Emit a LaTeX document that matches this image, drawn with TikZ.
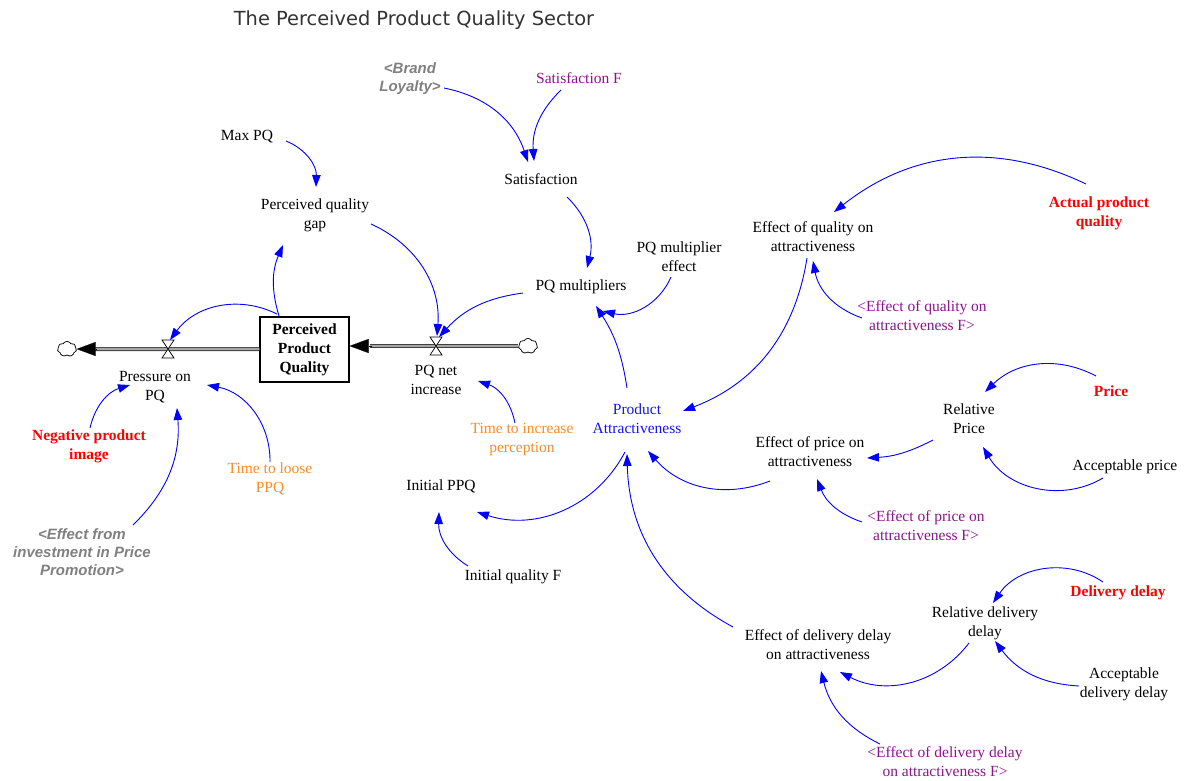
\documentclass[tikz,border=0pt]{standalone}
\usepackage{fontspec}
\setmainfont{Liberation Serif}
\newfontfamily\titlefont{DejaVu Sans}
\newfontfamily\shadowfont{Liberation Sans}
\usetikzlibrary{arrows.meta,shapes.symbols}

\definecolor{linkblue}{RGB}{0,0,255}
\definecolor{exogred}{RGB}{255,0,0}
\definecolor{lookpurple}{RGB}{140,20,140}
\definecolor{timeorange}{RGB}{250,140,40}
\definecolor{shadowgray}{RGB}{128,128,128}
\definecolor{attrblue}{RGB}{20,20,240}

\newcommand\varsize{\fontsize{15.5}{19}\selectfont}

\tikzset{
  var/.style={align=center, font=\varsize, inner sep=1pt},
  redvar/.style={var, text=exogred, font=\varsize\bfseries},
  purplevar/.style={var, text=lookpurple},
  orangevar/.style={var, text=timeorange},
  shadowvar/.style={align=center, inner sep=1pt, text=shadowgray,
    font=\shadowfont\fontsize{15}{18}\selectfont\bfseries\itshape},
  link/.style={draw=linkblue, line width=0.9pt,
    -{Triangle[length=12pt,width=8.5pt,fill=linkblue]}},
  stockbox/.style={draw, line width=1.1pt, minimum width=89pt, minimum height=65pt,
    align=center, font=\varsize\bfseries, inner sep=2pt},
  pipe/.style={draw=black!75, line width=0.8pt, double=black!35, double distance=2.4pt},
  flowtip/.style={line width=0.1pt, -{Triangle[length=19pt,width=14pt,fill=black]}},
  valve/.style={draw, fill=white, line width=0.7pt, line join=miter},
  source/.style={cloud, cloud puffs=7, cloud puff arc=120, draw, line width=0.6pt,
    fill=white, minimum width=19pt, minimum height=15pt, inner sep=0pt}
}

\begin{document}
\begin{tikzpicture}[x=1pt,y=-1pt]
\useasboundingbox (0,0) rectangle (1190,780);
\fill[white] (0,0) rectangle (1190,780);

% title
\node[font=\titlefont\fontsize{19.4}{22}\selectfont, text=black!80] (title) at (414,20)
  {The Perceived Product Quality Sector};

% stock and the two flows
\node[stockbox] (stock) at (304.5,349.5) {Perceived\\Product\\Quality};
\node[source] (cloudL) at (67,349) {};
\node[source] (cloudR) at (528,346) {};
\coordinate (vL) at (168,349);
\coordinate (vR) at (436,346);

\draw[pipe] (stock.west |- cloudL) -- ([xshift=18pt]cloudL.east);
\draw[flowtip] ([xshift=20pt]cloudL.east) -- (cloudL.east);
\draw[pipe] (cloudR.west) -- ([xshift=20pt]cloudR.west -| stock.east);
\draw[flowtip] ([xshift=22pt]cloudR.west -| stock.east) -- (cloudR.west -| stock.east);
\node[source] at (cloudL) {};
\node[source] at (cloudR) {};

\draw[valve] ([shift={(-6,-9)}]vL) -- ([shift={(6,-9)}]vL) -- ([shift={(-6,9)}]vL)
  -- ([shift={(6,9)}]vL) -- cycle;
\draw[valve] ([shift={(-6,-9)}]vR) -- ([shift={(6,-9)}]vR) -- ([shift={(-6,9)}]vR)
  -- ([shift={(6,9)}]vR) -- cycle;

\node[var] (pressure) at (155,387) {Pressure on\\PQ};
\node[var] (pqni) at (436,380) {PQ net\\increase};

% auxiliaries
\node[var] (maxpq) at (247,137) {Max PQ};
\node[var] (gap) at (315,215) {Perceived quality\\gap};
\node[shadowvar] (brand) at (410,79) {<Brand\\Loyalty>};
\node[purplevar] (satF) at (579,78) {Satisfaction F};
\node[var] (sat) at (541,179) {Satisfaction};
\node[var] (pqme) at (679,257) {PQ multiplier\\effect};
\node[var] (pqm) at (581,287) {PQ multipliers};
\node[var] (effq) at (813,237) {Effect of quality on\\attractiveness};
\node[redvar] (apq) at (1099,213) {Actual product\\quality};
\node[purplevar] (effqF) at (922,316) {<Effect of quality on\\attractiveness F>};
\node[var, text=attrblue] (pa) at (637,419) {Product\\Attractiveness};
\node[orangevar] (tip) at (522,440) {Time to increase\\perception};
\node[var] (rp) at (969,419) {Relative\\Price};
\node[redvar] (price) at (1111,391) {Price};
\node[var] (effp) at (810,452) {Effect of price on\\attractiveness};
\node[var] (accp) at (1125,467) {Acceptable price};
\node[purplevar] (effpF) at (926,526) {<Effect of price on\\attractiveness F>};
\node[var] (ippq) at (441,486) {Initial PPQ};
\node[var] (iqF) at (513,577) {Initial quality F};
\node[redvar] (npi) at (89,446) {Negative product\\image};
\node[orangevar] (tlp) at (270,479) {Time to loose\\PPQ};
\node[shadowvar] (eip) at (82,552) {<Effect from\\investment in Price\\Promotion>};
\node[var] (rdd) at (985,623) {Relative delivery\\delay};
\node[redvar] (dd) at (1118,593) {Delivery delay};
\node[var] (effd) at (818,645) {Effect of delivery delay\\on attractiveness};
\node[var] (acdd) at (1124,684) {Acceptable\\delivery delay};
\node[purplevar] (effdF) at (945,762) {<Effect of delivery delay\\on attractiveness F>};

% causal links
\draw[link] ([shift={(39,4)}]maxpq.center) to[bend left=35] ([shift={(1,-28)}]gap.center);
\draw[link] ([shift={(-25.5,-33.5)}]stock.center) to[bend left=20] ([shift={(-32,30)}]gap.center);
\draw[link] ([shift={(56,9)}]gap.center) to[bend left=35] ([shift={(1,-10)}]vR);
\draw[link] ([shift={(-27.5,-35.5)}]stock.center) to[bend right=40] ([shift={(2,-9)}]vL);
\draw[link] ([shift={(-58,6)}]pqm.center) to[bend right=20] ([shift={(3,-9)}]vR);
\draw[link] ([shift={(34,9)}]brand.center) to[bend left=30] ([shift={(-13,-17)}]sat.center);
\draw[link] ([shift={(-18,12)}]satF.center) to[bend right=25] ([shift={(-7,-18)}]sat.center);
\draw[link] ([shift={(26,18)}]sat.center) to[bend left=30] ([shift={(6,-19)}]pqm.center);
\draw[link] ([shift={(-8,20)}]pqme.center) to[bend left=40] ([shift={(22,24)}]pqm.center);
\draw[link] ([shift={(-10,-31)}]pa.center) to[bend right=12] ([shift={(15,19)}]pqm.center);
\draw[link] ([shift={(-13,-29)}]apq.center) to[bend right=32] ([shift={(21,-25)}]effq.center);
\draw[link] ([shift={(-6,21)}]effq.center) to[bend left=30] ([shift={(46,-8)}]pa.center);
\draw[link] ([shift={(-60,2)}]effqF.center) to[bend left=30] ([shift={(0,24)}]effq.center);
\draw[link] ([shift={(-15,-15)}]price.center) to[bend right=36] ([shift={(16,-27)}]rp.center);
\draw[link] ([shift={(-36,21)}]rp.center) to[bend left=12] ([shift={(57,6)}]effp.center);
\draw[link] ([shift={(-22,11)}]accp.center) to[bend left=45] ([shift={(14,28)}]rp.center);
\draw[link] ([shift={(-40,29)}]effp.center) to[bend left=35] ([shift={(11,32)}]pa.center);
\draw[link] ([shift={(-64,-4)}]effpF.center) to[bend left=25] ([shift={(7,27)}]effp.center);
\draw[link] ([shift={(-12,33)}]pa.center) to[bend left=40] ([shift={(36,26)}]ippq.center);
\draw[link] ([shift={(-45,-11)}]iqF.center) to[bend left=30] ([shift={(-2,26)}]ippq.center);
\draw[link] ([shift={(-85,-18)}]effd.center) to[bend left=30] ([shift={(-10,35)}]pa.center);
\draw[link] ([shift={(-15,-11)}]dd.center) to[bend right=45] ([shift={(8,-20)}]rdd.center);
\draw[link] ([shift={(-16,20)}]rdd.center) to[bend left=40] ([shift={(22,27)}]effd.center);
\draw[link] ([shift={(-45,2)}]acdd.center) to[bend left=25] ([shift={(10,18)}]rdd.center);
\draw[link] ([shift={(-65,-18)}]effdF.center) to[bend left=25] ([shift={(3,26)}]effd.center);
\draw[link] ([shift={(-7,-17)}]tip.center) to[bend right=30] ([shift={(42,1)}]pqni.center);
\draw[link] ([shift={(1,-18)}]npi.center) to[bend left=30] ([shift={(-25,-2)}]pressure.center);
\draw[link] ([shift={(51,-27)}]eip.center) to[bend right=25] ([shift={(22,21)}]pressure.center);
\draw[link] ([shift={(0,-17)}]tlp.center) to[bend right=40] ([shift={(52,-2)}]pressure.center);
\end{tikzpicture}
\end{document}
